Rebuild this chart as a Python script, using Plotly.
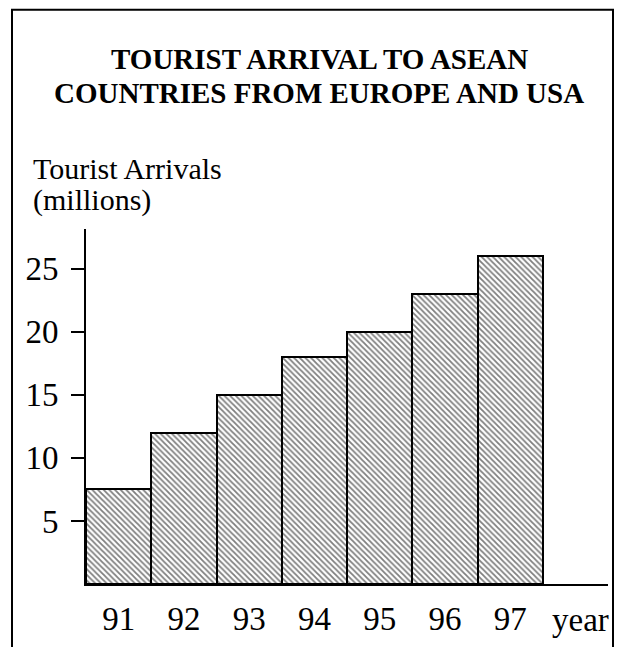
import plotly.graph_objects as go

# ---- data ----
years = [91, 92, 93, 94, 95, 96, 97]
year_labels = ["91", "92", "93", "94", "95", "96", "97"]
arrivals = [7.5, 12, 15, 18, 20, 23, 26]
y_ticks = [5, 10, 15, 20, 25]
title_lines = ["TOURIST ARRIVAL TO ASEAN", "COUNTRIES FROM EUROPE AND USA"]
ylabel_lines = ["Tourist Arrivals", "(millions)"]
xlabel = "year"

# ---- layout geometry (pixels) ----
W, H = 618, 647
ML, MR, MT, MB = 86, 10, 229, 52
PW, PH = W - ML - MR, H - MT - MB
FONT = "Liberation Serif, Times New Roman, serif"


def px_x(x):
    return (x - ML) / PW


def px_y(y):
    return (H - MB - y) / PH


fig = go.Figure()
fig.add_trace(go.Bar(
    x=years, y=arrivals, width=1,
    marker=dict(
        color="white",
        line=dict(color="black", width=2),
        pattern=dict(shape="\\", fgcolor="black", bgcolor="white", size=4, solidity=0.45),
    ),
    hoverinfo="skip",
))

fig.update_layout(
    width=W, height=H,
    margin=dict(l=ML, r=MR, t=MT, b=MB, pad=0),
    paper_bgcolor="white", plot_bgcolor="white",
    showlegend=False,
    font=dict(family=FONT, color="black", size=33),
    bargap=0,
)
fig.update_xaxes(
    range=[90.5, 98.5], tickvals=years, ticktext=year_labels,
    showline=True, linecolor="black", linewidth=2,
    ticks="", showgrid=False, zeroline=False,
    tickfont=dict(family=FONT, size=33, color="black"),
    ticklabelstandoff=4,
)
fig.update_yaxes(
    range=[0, 28.15], tickvals=y_ticks, ticktext=[str(v) for v in y_ticks],
    showline=True, linecolor="black", linewidth=2,
    ticks="outside", ticklen=13, tickwidth=2, tickcolor="black",
    showgrid=False, zeroline=False,
    tickfont=dict(family=FONT, size=33, color="black"),
    ticklabelstandoff=6,
)

# title lines
for line, yb in zip(title_lines, [64, 99]):
    fig.add_annotation(
        text=f"<b>{line}</b>", xref="paper", yref="paper",
        x=px_x(319), y=px_y(yb - 10), xanchor="center", yanchor="middle",
        showarrow=False, font=dict(family=FONT, size=29, color="black"),
    )

# y-axis label lines
for line, yb in zip(ylabel_lines, [175, 207]):
    fig.add_annotation(
        text=line, xref="paper", yref="paper",
        x=px_x(31), y=px_y(yb - 8), xanchor="left", yanchor="middle",
        showarrow=False, font=dict(family=FONT, size=30, color="black"),
    )

# x-axis label
fig.add_annotation(
    text=xlabel, xref="paper", yref="paper",
    x=px_x(611), y=px_y(632), xanchor="right", yanchor="middle",
    showarrow=False, font=dict(family=FONT, size=33, color="black"),
)

# outer frame (bottom edge lies beyond the page)
fig.add_shape(
    type="rect", xref="paper", yref="paper",
    x0=px_x(12), x1=px_x(613), y0=px_y(H + 20), y1=px_y(3),
    line=dict(color="black", width=2), fillcolor="rgba(0,0,0,0)", layer="below",
)

fig.write_html(
    "out.html",
    config={"displayModeBar": False},
    post_script="document.body.style.margin='0';document.body.style.overflow='hidden';",
)
